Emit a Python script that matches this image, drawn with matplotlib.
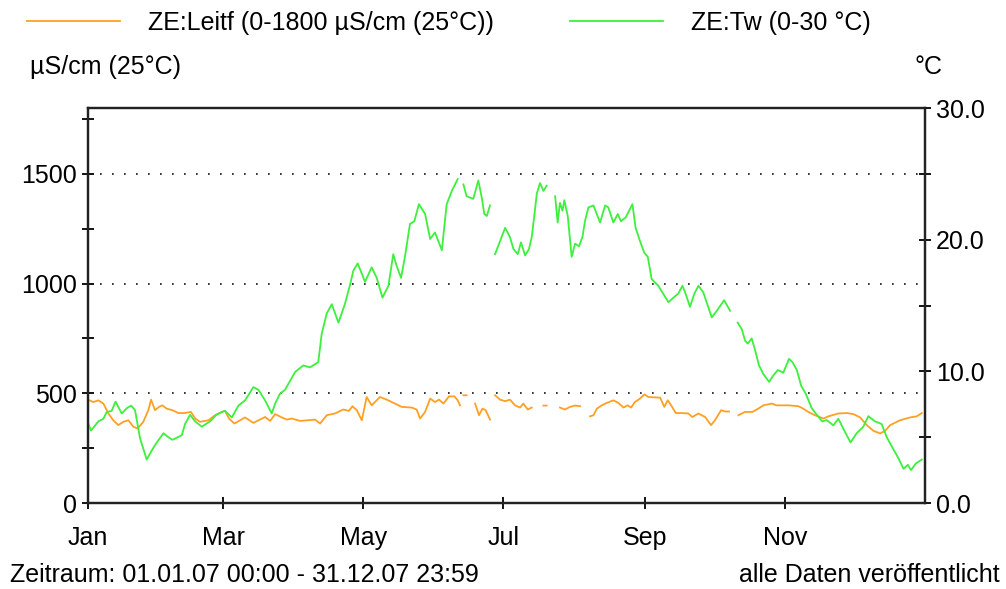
import numpy as np
import matplotlib
matplotlib.use('Agg')
import matplotlib.pyplot as plt
from matplotlib.ticker import MultipleLocator, FormatStrFormatter

plt.rcParams['font.family'] = ['Liberation Sans', 'DejaVu Sans']

# conductivity ZE:Leitf, day of year -> uS/cm (nan = gap)
leitf_day = [0, 2.3, 4.5, 6.7, 8.9, 11, 13.2, 15.4, 17.6, 19.8, 21.7, 24.1, 26.3, 27.5, 29.2, 31,
             32.4, 34.3, 36.8, 39.4, 42, 44.9, 46.7, 48.8, 52.5, 55.4, 58.3, 59.7, 61.5, 63.8, 68.5,
             72.1, 77.2, 79.4, 81.6, 84.5, 86.7, 88.8, 92.5, 99, 101.2, 104.1, 107.7, 111.3, 113.8,
             115.3, 117.2, 119.4, 121.5, 123.7, 127.3, 130.3, 133.9, 136.8, 141.2, 143.3, 144.8, 147,
             149.2, 151.3, 153.1, 155, 157.4, 159.8, 161.2, 162.2, 163, 163.7, 165.1, 166, 168.8,
             170.5, 172, 173.4, 175.3, 176.4, 177.5, 179.7, 181.9, 184, 186.2, 188.4, 189.8, 191.8,
             193.5, 195, 198.6, 200, 202, 205.8, 208, 210.2, 212.4, 214.6, 216.5, 218.9, 220.4,
             221.9, 224, 226.2, 229.1, 231.3, 233.5, 235.3, 236.8, 238.5, 240.7, 242.6, 244.4,
             249.5, 251.3, 252.8, 254.3, 256.3, 258.9, 261.8, 263.5, 266.2, 269.1, 271.7, 273.4,
             276.1, 277.8, 279.5, 281.5, 283.6, 286.5, 289.7, 292.3, 294.5, 298.2, 300.3, 305.7,
             309.8, 311.9, 314.1, 317, 320.7, 322.9, 327.2, 330.9, 333.8, 336.7, 339.6, 342.5,
             345.4, 347.6, 349.8, 354.1, 358.5, 361.4, 363.6]
leitf_val = [471, 460, 468, 453, 408, 377, 355, 370, 377, 347, 340, 370, 423, 471, 423, 438,
             445, 430, 423, 410, 410, 415, 385, 370, 377, 400, 415, 420, 385, 362, 390,
             365, 392, 374, 405, 390, 380, 385, 374, 380, 362, 400, 408, 426, 420,
             441, 423, 377, 483, 445, 483, 471, 453, 438, 435, 426, 385, 415,
             476, 460, 471, 453, 486, 486, 468, 445, np.nan, 491, 491, np.nan, 453,
             400, 430, 423, 380, np.nan, 491, 471, 464, 471, 445, 435, 453, 426,
             435, np.nan, 444, 444, np.nan, 435, 426, 438, 444, 441, np.nan, 395, 400,
             430, 445, 456, 468, 456, 435, 445, 435, 460, 476, 495, 483,
             480, 438, 468, 445, 410, 410, 408, 392, 408, 392, 355, 377,
             423, 417, 417, np.nan, 400, 415, 415, 430, 445, 453, 445, 445,
             441, 430, 415, 400, 385, 395, 408, 410, 405, 390, 355, 329,
             317, 329, 355, 377, 390, 395, 410]

# water temperature ZE:Tw, day of year -> degC
tw_day = [0, 1.3, 4.5, 6.7, 8.1, 10.3, 12, 14.7, 16.9, 18.8, 20.5, 22.7, 25.6, 27.8, 30, 32.9,
          35, 36.8, 40.9, 42.3, 44.5, 46.7, 49.6, 53.2, 56, 58.3, 59.7, 62.7, 65.6, 68.5, 72.1,
          74.3, 77.2, 80.1, 81.6, 83.7, 85.9, 90.3, 93.9, 96.8, 100.4, 101.9, 104.1, 106.3, 109.2,
          112, 114.3, 115.7, 117.6, 120.8, 123.7, 125.9, 128.4, 131, 133.1, 134.6, 136.5, 138.2,
          140.4, 142.3, 144.3, 147, 149.2, 151.3, 154.3, 156.4, 158.9, 161.2, 162.4, 163.7, 165.1,
          168, 170.2, 171.7, 172.8, 173.9, 175.3, 176.4, 177.5, 179.7, 181.9, 184, 185.5, 187.4,
          188.8, 190.6, 192.3, 193.5, 194.6, 195.7, 197.1, 198.6, 200, 202, 203.7, 204.8, 205.8,
          206.9, 207.7, 209.2, 210.9, 212.4, 214.1, 215.6, 216.7, 218.2, 220.4, 223.3, 225.5,
          226.9, 229.1, 231, 232.4, 234.5, 237.4, 238.8, 240.7, 242.6, 244.1, 245.8, 248.7,
          253.1, 255.3, 257.4, 259.2, 260.4, 262.5, 264.4, 266.2, 268.3, 272, 274.2, 277.4, 280,
          281.5, 283.3, 285.1, 286.5, 287.7, 289.4, 290.9, 292.6, 294.5, 297, 298.9, 300.8, 303.2,
          305.7, 307.2, 309.1, 311, 313, 315.6, 317.8, 320.2, 322.1, 325, 327.2, 330.1, 332.5,
          335.2, 338.1, 340.3, 343.2, 346.1, 348.3, 350.5, 353.4, 355.6, 357.5, 358.9, 361, 363.6]
tw_val = [6.1, 5.5, 6.2, 6.4, 6.9, 7.0, 7.7, 6.8, 7.2, 7.4, 7.05, 4.9, 3.3, 4.0, 4.6, 5.3,
          5.0, 4.8, 5.15, 6.0, 6.7, 6.2, 5.8, 6.2, 6.7, 6.9, 7.0, 6.5, 7.4, 7.8, 8.8,
          8.6, 7.8, 6.8, 7.55, 8.3, 8.6, 9.95, 10.45, 10.3, 10.7, 12.85, 14.4, 15.1, 13.7,
          15.1, 16.6, 17.65, 18.2, 16.8, 17.9, 17.1, 15.6, 16.5, 18.9, 18.0, 17.1, 18.7,
          21.2, 21.4, 22.7, 21.95, 20.05, 20.55, 19.2, 22.7, 23.8, 24.6, np.nan, 24.2, 23.3,
          23.1, 24.5, 23.2, 21.95, 21.8, 22.6, np.nan, 18.9, 19.9, 20.9, 20.2, 19.3, 18.9,
          19.8, 18.8, 19.3, 20.2, 21.8, 23.5, 24.3, 23.7, 24.1, np.nan, 23.3, 21.3, 22.8,
          22.2, 23.0, 21.8, 18.7, 19.7, 19.5, 20.2, 21.4, 22.45, 22.6, 21.3, 22.6,
          22.45, 21.3, 21.95, 21.4, 21.7, 22.7, 20.9, 19.9, 19.0, 18.7, 17.0, 16.5,
          15.25, 15.6, 15.9, 16.5, 16.0, 14.9, 15.9, 16.5, 16.0, 14.1, 14.6, 15.4, 14.6,
          np.nan, 13.7, 13.2, 12.35, 12.1, 12.5, 11.6, 10.45, 9.8, 9.2, 9.7, 10.1, 9.9,
          10.95, 10.7, 10.1, 8.9, 8.3, 7.2, 6.7, 6.2, 6.3, 5.9, 6.4, 5.4, 4.6,
          5.3, 5.8, 6.6, 6.2, 6.0, 5.0, 4.3, 3.4, 2.6, 2.9, 2.5, 3.0, 3.3]

month_pos = [0, 59, 120, 181, 243, 304]
month_lab = ['Jan', 'Mar', 'May', 'Jul', 'Sep', 'Nov']

fs = 18
fig = plt.figure(figsize=(10.06, 5.89), dpi=100)
ax = fig.add_axes([0.0875, 0.146, 0.832, 0.6706])
ax2 = ax.twinx()

l1, = ax.plot(leitf_day, leitf_val, color='#ffa024', lw=1.3)
l2, = ax2.plot(tw_day, tw_val, color='#3cf03c', lw=1.3)

ax.set_xlim(0, 365)
ax.set_ylim(0, 1800)
ax2.set_ylim(0, 30)

ax.set_xticks(month_pos)
ax.set_xticklabels(month_lab)
ax.yaxis.set_major_locator(MultipleLocator(500))
ax.yaxis.set_minor_locator(MultipleLocator(250))
ax2.yaxis.set_major_locator(MultipleLocator(10))
ax2.yaxis.set_minor_locator(MultipleLocator(5))
ax2.yaxis.set_major_formatter(FormatStrFormatter('%.1f'))

ax.grid(axis='y', which='major', color='#111111', ls=(0, (1, 6.2)), lw=1.2)

for a in (ax, ax2):
    a.tick_params(which='both', direction='inout', length=9, width=1.3, labelsize=fs, pad=3.5)
    for s in a.spines.values():
        s.set_linewidth(1.6)
        s.set_color('#222222')
ax.tick_params(axis='x', pad=12)

fig.legend([l1, l2], ['ZE:Leitf (0-1800 µS/cm (25°C))', 'ZE:Tw (0-30 °C)'],
           loc='center left', bbox_to_anchor=(0.027, 1 - 23 / 589), ncol=2, frameon=False,
           borderpad=0, borderaxespad=0,
           fontsize=fs, handlelength=3.7, handletextpad=1.12, columnspacing=3.06)

fig.text(0.03, 0.886, 'µS/cm (25°C)', fontsize=fs, ha='left', va='center')
fig.text(0.9225, 0.886, '°C', fontsize=fs, ha='center', va='center')
fig.text(0.01, 0.024, 'Zeitraum: 01.01.07 00:00 - 31.12.07 23:59', fontsize=fs, ha='left', va='center')
fig.text(0.994, 0.024, 'alle Daten veröffentlicht', fontsize=fs, ha='right', va='center')

fig.savefig('out.png', dpi=100)
